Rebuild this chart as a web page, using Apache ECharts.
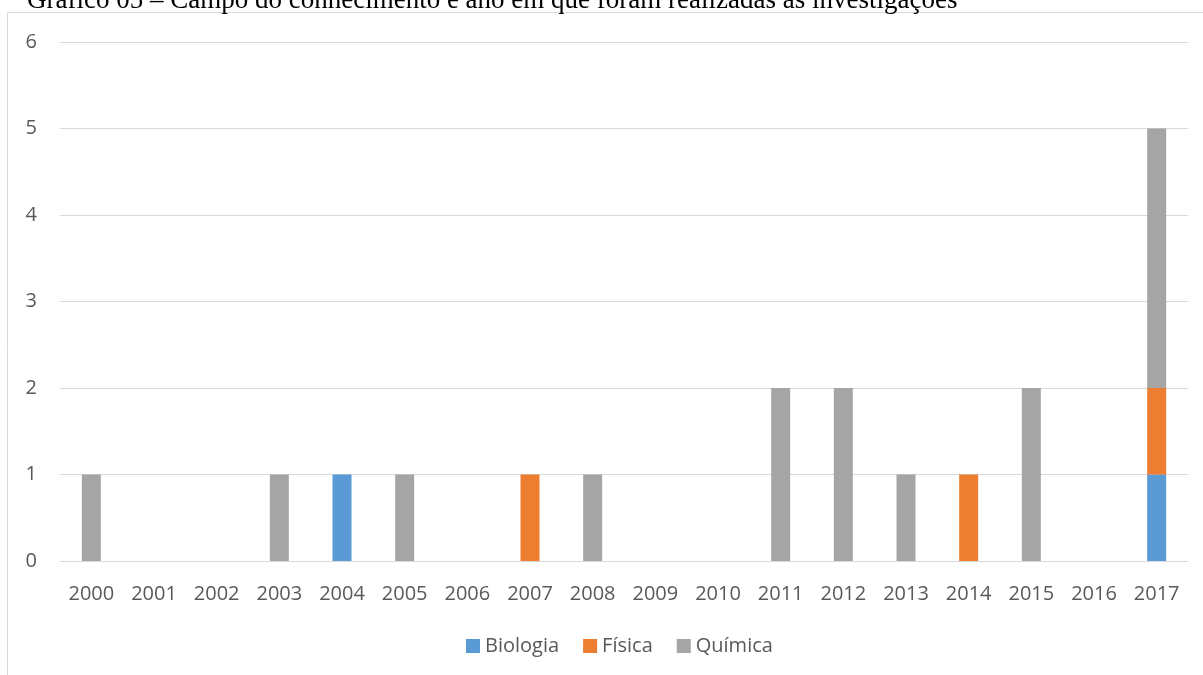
<!DOCTYPE html>
<html>
<head>
<meta charset="utf-8">
<style>
  html, body { margin: 0; padding: 0; background: #ffffff; }
  #chart { width: 1203px; height: 675px; }
</style>
<script src="https://cdn.jsdelivr.net/npm/echarts@6/dist/echarts.min.js"></script>
</head>
<body>
<div id="chart"></div>
<script>
// Publication years on the category axis
const years = ['2000', '2001', '2002', '2003', '2004', '2005', '2006', '2007', '2008',
               '2009', '2010', '2011', '2012', '2013', '2014', '2015', '2016', '2017'];

// Number of studies per field of knowledge and year
const biologia = [0, 0, 0, 0, 1, 0, 0, 0, 0, 0, 0, 0, 0, 0, 0, 0, 0, 1];
const fisica   = [0, 0, 0, 0, 0, 0, 0, 1, 0, 0, 0, 0, 0, 0, 1, 0, 0, 1];
const quimica  = [1, 0, 0, 1, 0, 1, 0, 0, 1, 0, 0, 2, 2, 1, 0, 2, 0, 3];

const seriesNames = ['Biologia', 'Física', 'Química'];
const seriesColors = ['#5B9BD5', '#ED7D31', '#A5A5A5'];

const titleText = 'Gráfico 05 – Campo do conhecimento e ano em que foram realizadas as investigações';

const labelFont = '"Open Sans", "Noto Sans", sans-serif';

const chart = echarts.init(document.getElementById('chart'), null, { renderer: 'canvas' });

const dataSets = [biologia, fisica, quimica];

chart.setOption({
  animation: false,
  backgroundColor: '#ffffff',
  graphic: [
    {
      // chart frame (runs off the right and bottom edges)
      type: 'rect',
      shape: { x: 7.5, y: 12.5, width: 1300, height: 800 },
      style: { fill: 'none', stroke: '#d9d9d9', lineWidth: 1 },
      silent: true,
      z: -1
    },
    {
      type: 'text',
      left: 27,
      top: -13,
      style: {
        text: titleText,
        font: '27px "Liberation Serif", "Times New Roman", serif',
        fill: '#000000'
      },
      silent: true
    }
  ],
  grid: { left: 60, right: 15, top: 42, bottom: 114, containLabel: false },
  legend: {
    data: seriesNames,
    bottom: 14,
    left: 461,
    itemWidth: 14,
    itemHeight: 14,
    itemGap: 24,
    icon: 'rect',
    textStyle: { color: '#595959', fontSize: 20, fontFamily: labelFont }
  },
  xAxis: {
    type: 'category',
    data: years,
    axisLine: { show: true, lineStyle: { color: '#d9d9d9', width: 1 } },
    axisTick: { show: false },
    axisLabel: { color: '#595959', fontSize: 20, fontFamily: labelFont, margin: 23, interval: 0 }
  },
  yAxis: {
    type: 'value',
    min: 0,
    max: 6,
    interval: 1,
    axisLine: { show: false },
    axisTick: { show: false },
    axisLabel: { color: '#595959', fontSize: 20, fontFamily: labelFont, margin: 23 },
    splitLine: { lineStyle: { color: '#d9d9d9', width: 1 } }
  },
  series: seriesNames.map((name, i) => ({
    name: name,
    type: 'bar',
    stack: 'total',
    data: dataSets[i],
    barWidth: 19,
    itemStyle: { color: seriesColors[i] }
  }))
});
</script>
</body>
</html>
